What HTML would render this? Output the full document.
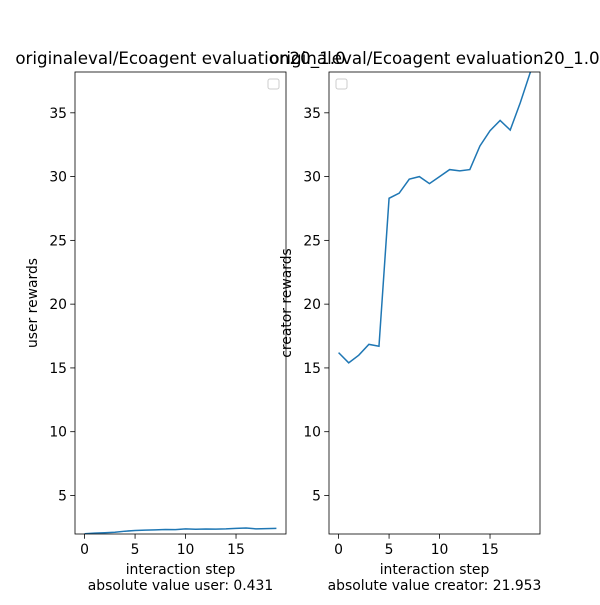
<!DOCTYPE html>
<html><head><meta charset="utf-8"><style>
body{margin:0;background:#fff}
text{font-family:"DejaVu Sans","Liberation Sans",sans-serif;fill:#000}
</style></head><body>
<svg id="chart" width="600" height="600" xmlns="http://www.w3.org/2000/svg"></svg>
<script>
const steps = [0,1,2,3,4,5,6,7,8,9,10,11,12,13,14,15,16,17,18,19];
const userRewards = [2.0,2.05,2.08,2.12,2.2,2.25,2.28,2.3,2.33,2.32,2.38,2.35,2.37,2.36,2.38,2.42,2.45,2.38,2.4,2.42];
const creatorRewards = [16.2,15.4,16.0,16.85,16.7,28.3,28.7,29.8,30.0,29.45,30.0,30.55,30.45,30.55,32.4,33.6,34.4,33.65,35.8,38.2];
const xTicks = [0,5,10,15];
const yTicks = [5,10,15,20,25,30,35];
const svg = document.getElementById('chart');
const NS = 'http://www.w3.org/2000/svg';
function mk(tag, attrs, parent){const e=document.createElementNS(NS,tag);for(const k in attrs)e.setAttribute(k,attrs[k]);(parent||svg).appendChild(e);return e;}
const yMin=1.98, yMax=38.2, xMin=-0.95, xMax=19.95, plotTop=72, plotBottom=534;
function panel(x0, x1, data, ylabel, footer, legendX, name){
  const g = mk('g',{});
  
  
  const sx = v => x0 + (v - xMin)/(xMax - xMin)*(x1 - x0);
  const sy = v => plotBottom - (v - yMin)/(yMax - yMin)*(plotBottom - plotTop);
  const defs = mk('clipPath',{id:'clip-'+name},g);
  mk('rect',{x:x0,y:plotTop,width:x1-x0,height:plotBottom-plotTop},defs);
  let d = '';
  steps.forEach((s,i)=>{d += (i?'L':'M') + sx(s).toFixed(2) + ',' + sy(data[i]).toFixed(2);});
  const line = mk('path',{d:d,fill:'none',stroke:'#1f77b4','stroke-width':1.5,'clip-path':'url(#clip-'+name+')'},g);
  
  
  const frame = mk('rect',{x:x0,y:plotTop,width:x1-x0,height:plotBottom-plotTop,fill:'none',stroke:'#000','stroke-width':0.8},g);
  
  
  xTicks.forEach(t=>{
    const x=sx(t);
    mk('line',{x1:x,x2:x,y1:plotBottom,y2:plotBottom+4.8,stroke:'#000','stroke-width':0.8},g);
    const tx=mk('text',{x:x,y:plotBottom+20,'text-anchor':'middle','font-size':13.9},g);tx.textContent=t;
    
    
  });
  yTicks.forEach(t=>{
    const y=sy(t);
    mk('line',{x1:x0,x2:x0-4.8,y1:y,y2:y,stroke:'#000','stroke-width':0.8},g);
    const tx=mk('text',{x:x0-8,y:y+5,'text-anchor':'end','font-size':13.9},g);tx.textContent=t;
    
    
  });
  const xl=mk('text',{x:(x0+x1)/2,y:574,'text-anchor':'middle','font-size':13.9},g);xl.textContent='interaction step';
  
  
  const ft=mk('text',{x:(x0+x1)/2,y:590,'text-anchor':'middle','font-size':13.9},g);ft.textContent=footer;
  
  
  const yl=mk('text',{x:0,y:0,'text-anchor':'middle','font-size':13.9,transform:'translate('+(x0-38)+','+((plotTop+plotBottom)/2)+') rotate(-90)'},g);yl.textContent=ylabel;
  
  
  const tt=mk('text',{x:(x0+x1)/2,y:64,'text-anchor':'middle','font-size':16.7},g);tt.textContent='originaleval/Ecoagent evaluation20_1.0';
  
  
  const lg=mk('rect',{x:legendX,y:79,width:11,height:10,rx:2,fill:'#fff',stroke:'#ccc','stroke-width':1},g);
  
  
}
panel(75,286,userRewards,'user rewards','absolute value user: 0.431',268,'user');
panel(329,540,creatorRewards,'creator rewards','absolute value creator: 21.953',336,'creator');
</script>
</body></html>
